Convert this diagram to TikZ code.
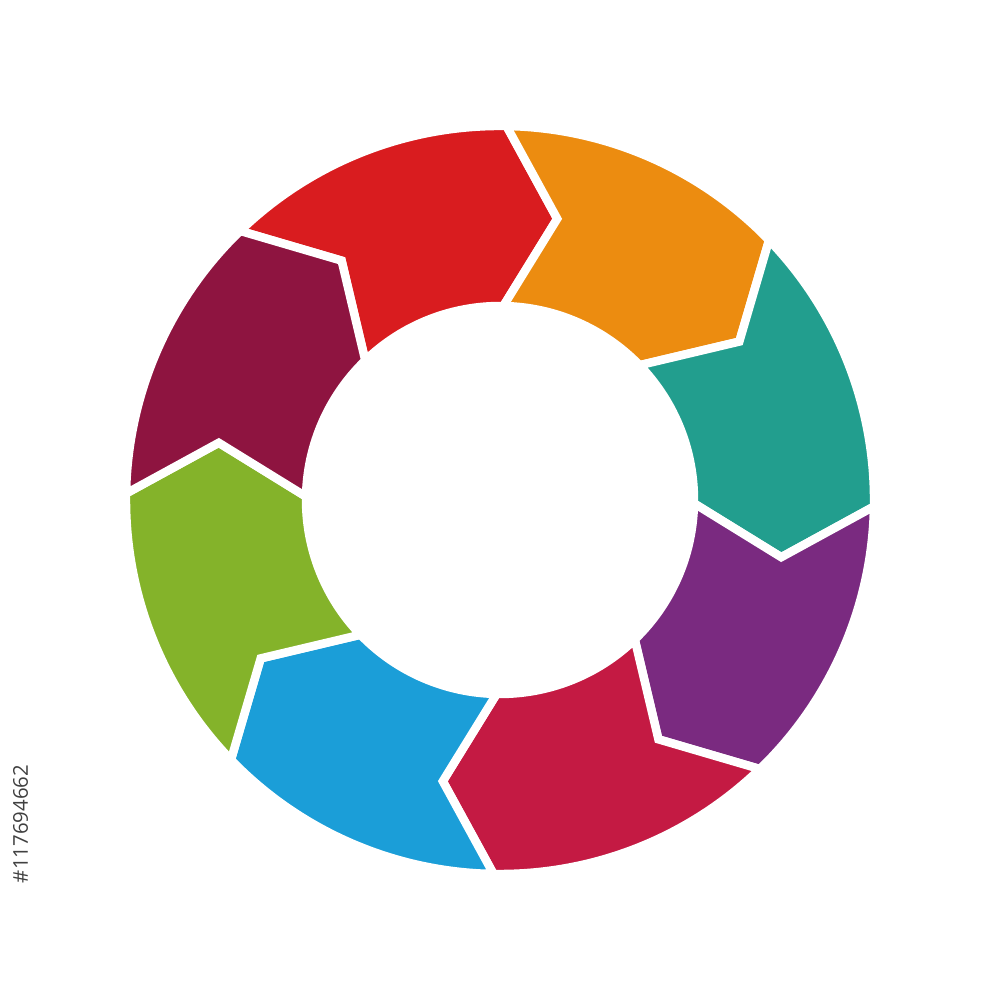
\documentclass[tikz,border=0pt]{standalone}
\usepackage{fontspec}
\setsansfont{Open Sans}
\usepackage{tikz}
\definecolor{segred}{HTML}{D91C1F}
\definecolor{segorange}{HTML}{EC8C10}
\definecolor{segteal}{HTML}{229E8E}
\definecolor{segpurple}{HTML}{7A2A80}
\definecolor{segcrimson}{HTML}{C41A43}
\definecolor{segblue}{HTML}{1B9ED8}
\definecolor{seggreen}{HTML}{84B32A}
\definecolor{segmaroon}{HTML}{8E1440}
\newcommand{\Ro}{3.74}
\newcommand{\Ri}{1.94}
\newcommand{\Rt}{2.87}
\tikzset{seg/.style={draw=white,line width=2.4pt,line join=miter}}

\begin{document}
\begin{tikzpicture}
    \useasboundingbox (0,0) rectangle (10,10);
    \begin{scope}[shift={(5,5)}]
      \foreach \col [count=\k from 0] in {segred,segorange,segteal,segpurple,segcrimson,segblue,seggreen,segmaroon} {
        \pgfmathsetmacro\a{134-45*\k}
        \pgfmathsetmacro\b{\a-45}
        \draw[seg,fill=\col] (\a:\Ro) arc[start angle=\a, end angle=\b, radius=\Ro]
          -- ({\b-10.5}:\Rt) -- (\b:\Ri) arc[start angle=\b, end angle=\a, radius=\Ri]
          -- ({\a-10.5}:\Rt) -- cycle;
      }
    \end{scope}
    \node (id) at (0.205,1.76) [rotate=90,text=black!75,font=\sffamily\fontsize{5.8}{7}\selectfont,inner sep=0pt] {\#117694662};
\end{tikzpicture}
\end{document}
